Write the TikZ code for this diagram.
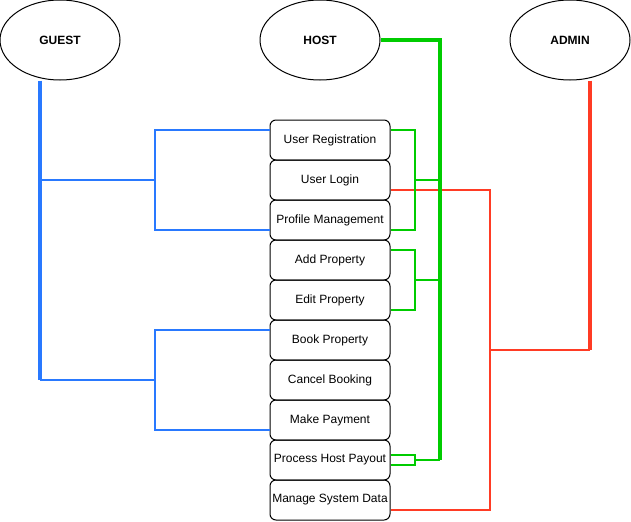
\documentclass[tikz,border=0pt]{standalone}
\usepackage{fontspec}
\setmainfont{Liberation Sans}
\usetikzlibrary{shapes.geometric}
\definecolor{guestblue}{RGB}{41,121,255}
\definecolor{hostgreen}{RGB}{0,204,0}
\definecolor{adminred}{RGB}{255,59,36}

\begin{document}
\begin{tikzpicture}[x=0.75pt,y=-0.75pt,node distance=30pt,
    actor node/.style={ellipse,draw,line width=0.75pt,inner sep=0pt,
      minimum width=90pt,minimum height=60pt,
      font=\bfseries\fontsize{9}{11}\selectfont},
    case node/.style={rectangle,rounded corners=4.5pt,draw,line width=0.75pt,
      inner sep=0pt,minimum width=90pt,minimum height=30pt,
      font=\fontsize{9}{11}\selectfont},
    trunk/.style={line width=3pt},
    branch/.style={line width=1.5pt}]
  \useasboundingbox (0,0) rectangle (631,521);

  % actors
  \node[actor node] (GU) at (60,40) {GUEST};
  \node[actor node] (HO) [node distance=195pt, right of=GU] {HOST};
  \node[actor node] (AD) [node distance=187.5pt, right of=HO] {ADMIN};

  % use cases
  \node[case node] (REG) at (330,140) {User Registration};
  \node[case node] (LOG) [below of=REG] {User Login};
  \node[case node] (PRO) [below of=LOG] {Profile Management};
  \node[case node] (ADP) [below of=PRO] {Add Property};
  \node[case node] (EDP) [below of=ADP] {Edit Property};
  \node[case node] (BKP) [below of=EDP] {Book Property};
  \node[case node] (CNB) [below of=BKP] {Cancel Booking};
  \node[case node] (PAY) [below of=CNB] {Make Payment};
  \node[case node] (HPO) [below of=PAY] {Process Host Payout};
  \node[case node] (SYS) [below of=HPO] {Manage System Data};

  % junctions
  \coordinate (GM) at (40,180);
  \coordinate (GE) at (40,380);
  \coordinate (GF1) at (155,180);
  \coordinate (GF2) at (155,380);
  \coordinate (HE) at (440,460);
  \coordinate (HF1) at (415,180);
  \coordinate (HF2) at (415,280);
  \coordinate (HF3) at (415,460);
  \coordinate (AE) at (590,350);
  \coordinate (AF) at (490,350);

  % guest
  \draw[guestblue,trunk] ([xshift=-15pt]GU.south) -- (GE);
  \draw[guestblue,branch] (GM) -- (GF1);
  \draw[guestblue,branch] (GE) -- (GF2);
  \draw[guestblue,branch] ([yshift=7.5pt]REG.west) -| (GF1) |- ([yshift=-7.5pt]PRO.west);
  \draw[guestblue,branch] ([yshift=7.5pt]BKP.west) -| (GF2) |- ([yshift=-7.5pt]PAY.west);

  % admin
  \draw[adminred,trunk] ([xshift=15pt]AD.south) -- (AE);
  \draw[adminred,branch] (AE) -- (AF);
  \draw[adminred,branch] ([yshift=-7.5pt]LOG.east) -| (AF) |- ([yshift=-7.5pt]SYS.east);

  % host
  \draw[hostgreen,trunk] (HO.east) -| (HE);
  \draw[hostgreen,branch] ([yshift=7.5pt]REG.east) -| (HF1) |- ([yshift=-7.5pt]PRO.east);
  \draw[hostgreen,branch] (HF1) -- (HF1 -| HE);
  \draw[hostgreen,branch] ([yshift=7.5pt]ADP.east) -| (HF2) |- ([yshift=-7.5pt]EDP.east);
  \draw[hostgreen,branch] (HF2) -- (HF2 -| HE);
  \draw[hostgreen,branch] ([yshift=3.75pt]HPO.east) -| (HF3) |- ([yshift=-3.75pt]HPO.east);
  \draw[hostgreen,branch] (HF3) -- (HE);
\end{tikzpicture}
\end{document}
